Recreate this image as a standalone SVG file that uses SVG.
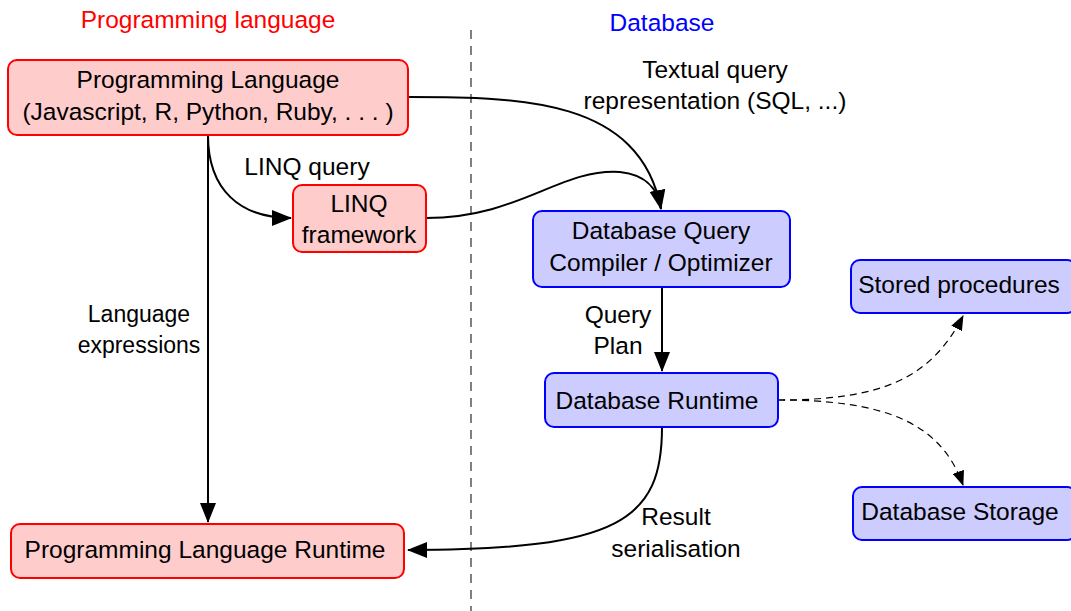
<svg xmlns="http://www.w3.org/2000/svg" width="1071" height="611" viewBox="0 0 1071 611">
<style>
text{font-family:"Liberation Sans",Arial,sans-serif;font-size:24.5px;text-anchor:middle;fill:#000}
.red rect{fill:#ffcccc;stroke:#ff0000;stroke-width:2}
.blue rect{fill:#ccccff;stroke:#0000ff;stroke-width:2}
.c{fill:none;stroke:#000;stroke-width:2}
.d{fill:none;stroke:#000;stroke-width:1.2;stroke-dasharray:7,5}
</style>
<defs>
<marker id="a" markerWidth="20" markerHeight="16" refX="19" refY="8" orient="auto" markerUnits="userSpaceOnUse"><path d="M0,0 L20,8 L0,16 Z" fill="#000"/></marker>
<marker id="s" markerWidth="15" markerHeight="12" refX="14" refY="6" orient="auto" markerUnits="userSpaceOnUse"><path d="M0,0 L15,6 L0,12 Z" fill="#000"/></marker>
</defs>
<line x1="471" y1="30" x2="471" y2="611" stroke="#808080" stroke-width="2" stroke-dasharray="9,7"/>
<text x="208" y="28" style="fill:#ff0000">Programming language</text>
<text x="662" y="31" style="fill:#0000ff">Database</text>
<g id="connectors">
<path class="c" d="M408,97 C520,97 640,98 661,209" marker-end="url(#a)"/>
<path class="c" d="M426,218 C520,218 560,168 620,172 C648,175 658,190 661,209"/>
<path class="c" d="M208,135 C208,190 240,218 291,218" marker-end="url(#a)"/>
<path class="c" d="M208,135 L208,522" marker-end="url(#a)"/>
<path class="c" d="M662,287 L662,371" marker-end="url(#a)"/>
<path class="c" d="M662,427 C662,520 620,550 408,550" marker-end="url(#a)"/>
<path class="d" d="M778,400 C880,400 930,380 963,316" marker-end="url(#s)"/>
<path class="d" d="M778,400 C880,400 940,420 963,485" marker-end="url(#s)"/>
<text x="715" y="78">Textual query</text>
<text x="715" y="109">representation (SQL, ...)</text>
<text x="307" y="175">LINQ query</text>
<text x="139" y="322" style="font-size:23px">Language</text>
<text x="139" y="353" style="font-size:23px">expressions</text>
<text x="618" y="323">Query</text>
<text x="618" y="354">Plan</text>
<text x="676" y="525">Result</text>
<text x="676" y="557">serialisation</text>
</g>
<g id="pl" class="red"><rect x="8" y="60" width="400" height="75" rx="9"/><text x="208" y="88">Programming Language</text><text x="208" y="120">(Javascript, R, Python, Ruby, . . . )</text></g>
<g id="linq" class="red"><rect x="293" y="185" width="133" height="67" rx="9"/><text x="359" y="212">LINQ</text><text x="359" y="243">framework</text></g>
<g id="plr" class="red"><rect x="11" y="524" width="393" height="54" rx="9"/><text x="205" y="558">Programming Language Runtime</text></g>
<g id="compiler" class="blue"><rect x="533" y="211" width="257" height="76" rx="9"/><text x="661" y="239">Database Query</text><text x="661" y="271">Compiler / Optimizer</text></g>
<g id="dbr" class="blue"><rect x="545" y="373" width="233" height="54" rx="9"/><text x="657" y="409">Database Runtime</text></g>
<g id="sp" class="blue"><rect x="851" y="260" width="225" height="53" rx="9"/><text x="959" y="293">Stored procedures</text></g>
<g id="ds" class="blue"><rect x="853" y="487" width="223" height="53" rx="9"/><text x="960" y="520">Database Storage</text></g>
</svg>
